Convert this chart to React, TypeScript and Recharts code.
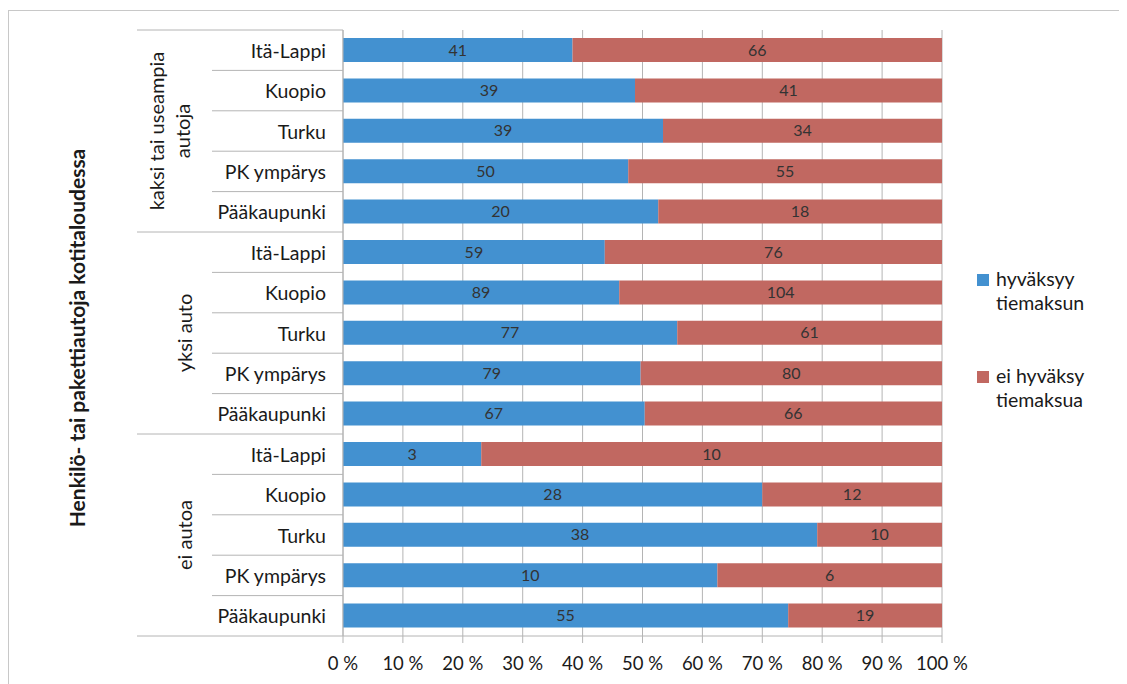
import React from "react";
import {
  BarChart,
  Bar,
  XAxis,
  YAxis,
  CartesianGrid,
  Legend,
  LabelList,
} from "recharts";

// car ownership groups, top to bottom
const groups = [["kaksi tai useampia", "autoja"], ["yksi auto"], ["ei autoa"]];
const regions = ["Itä-Lappi", "Kuopio", "Turku", "PK ympärys", "Pääkaupunki"];

// respondent counts per row (groups × regions, same order as above)
const accepts = [41, 39, 39, 50, 20, 59, 89, 77, 79, 67, 3, 28, 38, 10, 55];
const rejects = [66, 41, 34, 55, 18, 76, 104, 61, 80, 66, 10, 12, 10, 6, 19];

const xTicks = [0, 0.1, 0.2, 0.3, 0.4, 0.5, 0.6, 0.7, 0.8, 0.9, 1];

const seriesNames = ["hyväksyy\ntiemaksun", "ei hyväksy\ntiemaksua"];
const axisTitle = "Henkilö- tai pakettiautoja kotitaloudessa";

const BLUE = "#4391d0";
const RED = "#c16861";
const LINE = "#b4b4b4";
const TEXT = "#1a1a1a";
const FONT = "Lato, 'Noto Sans', sans-serif";

const W = 1119;
const H = 676;
const MARGIN = { top: 22, right: 185, bottom: 8, left: 0 };
const Y_AXIS_W = 335;
const X_AXIS_H = 40;

const rows = groups.flatMap((g, gi) =>
  regions.map((r, ri) => {
    const i = gi * regions.length + ri;
    return { key: `${gi}-${ri}`, region: r, yes: accepts[i], no: rejects[i] };
  })
);

const plotH = H - MARGIN.top - MARGIN.bottom - X_AXIS_H;
const rowH = plotH / rows.length;

function RowTick(props: any) {
  const { x, y, index } = props;
  const row = rows[index];
  if (!row) return null;
  const inGroup = index % regions.length;
  const group = groups[Math.floor(index / regions.length)];
  const groupEnd = inGroup === regions.length - 1;
  const bottom = y + rowH / 2;
  return (
    <g>
      {index === 0 && (
        <line x1={x - 206} x2={x} y1={y - rowH / 2} y2={y - rowH / 2} stroke={LINE} />
      )}
      <line x1={groupEnd ? x - 206 : x - 131} x2={x} y1={bottom} y2={bottom} stroke={LINE} />
      <text
        x={x - 17}
        y={y}
        textAnchor="end"
        dominantBaseline="central"
        fontSize={19.5}
        fontFamily={FONT}
        fill={TEXT}
      >
        {row.region}
      </text>
      {inGroup === 2 &&
        group.map((line, li) => {
          const bx = group.length === 1 ? x - 151 : x - 179 + li * 26;
          return (
            <text
              key={li}
              transform={`translate(${bx},${y}) rotate(-90)`}
              textAnchor="middle"
              fontSize={20}
              fontFamily={FONT}
              fill={TEXT}
            >
              {line}
            </text>
          );
        })}
      {index === 7 && (
        <text
          transform={`translate(${x - 258},${y + 5}) rotate(-90)`}
          textAnchor="middle"
          fontSize={21}
          fontWeight="bold"
          fontFamily={FONT}
          fill={TEXT}
        >
          {axisTitle}
        </text>
      )}
    </g>
  );
}

function LegendBox(props: any) {
  const items = [...(props.payload || [])].sort(
    (a: any, b: any) => seriesNames.indexOf(a.value) - seriesNames.indexOf(b.value)
  );
  return (
    <div style={{ fontFamily: FONT, fontSize: 19.5, color: TEXT }}>
      {items.map((it: any, i: number) => (
        <div key={i} style={{ display: "flex", alignItems: "flex-start", marginBottom: i === 0 ? 49 : 0 }}>
          <div style={{ width: 12, height: 12, background: it.color, marginTop: 7, marginRight: 7 }} />
          <div style={{ whiteSpace: "pre-line", lineHeight: "24px" }}>{it.value}</div>
        </div>
      ))}
    </div>
  );
}

export default function App() {
  return (
    <div style={{ position: "relative", width: W, height: H, overflow: "hidden", background: "#fff" }}>
      <div
        style={{
          position: "absolute",
          left: 0,
          top: 2,
          width: W + 50,
          height: H + 50,
          borderTop: "1px solid #c8c8c8",
          borderLeft: "1px solid #c8c8c8",
        }}
      />
      <BarChart
        width={W}
        height={H}
        data={rows}
        layout="vertical"
        stackOffset="expand"
        margin={MARGIN}
        barSize={24}
        style={{ position: "absolute", left: 0, top: 0 }}
      >
        <CartesianGrid horizontal={false} stroke={LINE} />
        <XAxis
          type="number"
          domain={[0, 1]}
          ticks={xTicks}
          height={X_AXIS_H}
          tickSize={7}
          tickMargin={14}
          stroke={LINE}
          axisLine={{ stroke: LINE }}
          tickLine={{ stroke: LINE }}
          tick={{ fill: TEXT, fontSize: 18.5, fontFamily: FONT }}
          tickFormatter={(v: number) => `${Math.round(v * 100)} %`}
        />
        <YAxis
          type="category"
          dataKey="key"
          width={Y_AXIS_W}
          tickSize={0}
          tickMargin={0}
          tickLine={false}
          axisLine={{ stroke: LINE }}
          interval={0}
          tick={<RowTick />}
        />
        <Legend
          layout="vertical"
          align="center"
          verticalAlign="middle"
          wrapperStyle={{ left: 969, top: 259, width: 140 }}
          content={<LegendBox />}
        />
        <Bar dataKey="yes" name={seriesNames[0]} stackId="s" fill={BLUE} isAnimationActive={false}>
          <LabelList dataKey="yes" position="center" fill="#333" fontSize={16} fontFamily={FONT} />
        </Bar>
        <Bar dataKey="no" name={seriesNames[1]} stackId="s" fill={RED} isAnimationActive={false}>
          <LabelList dataKey="no" position="center" fill="#333" fontSize={16} fontFamily={FONT} />
        </Bar>
      </BarChart>
    </div>
  );
}
